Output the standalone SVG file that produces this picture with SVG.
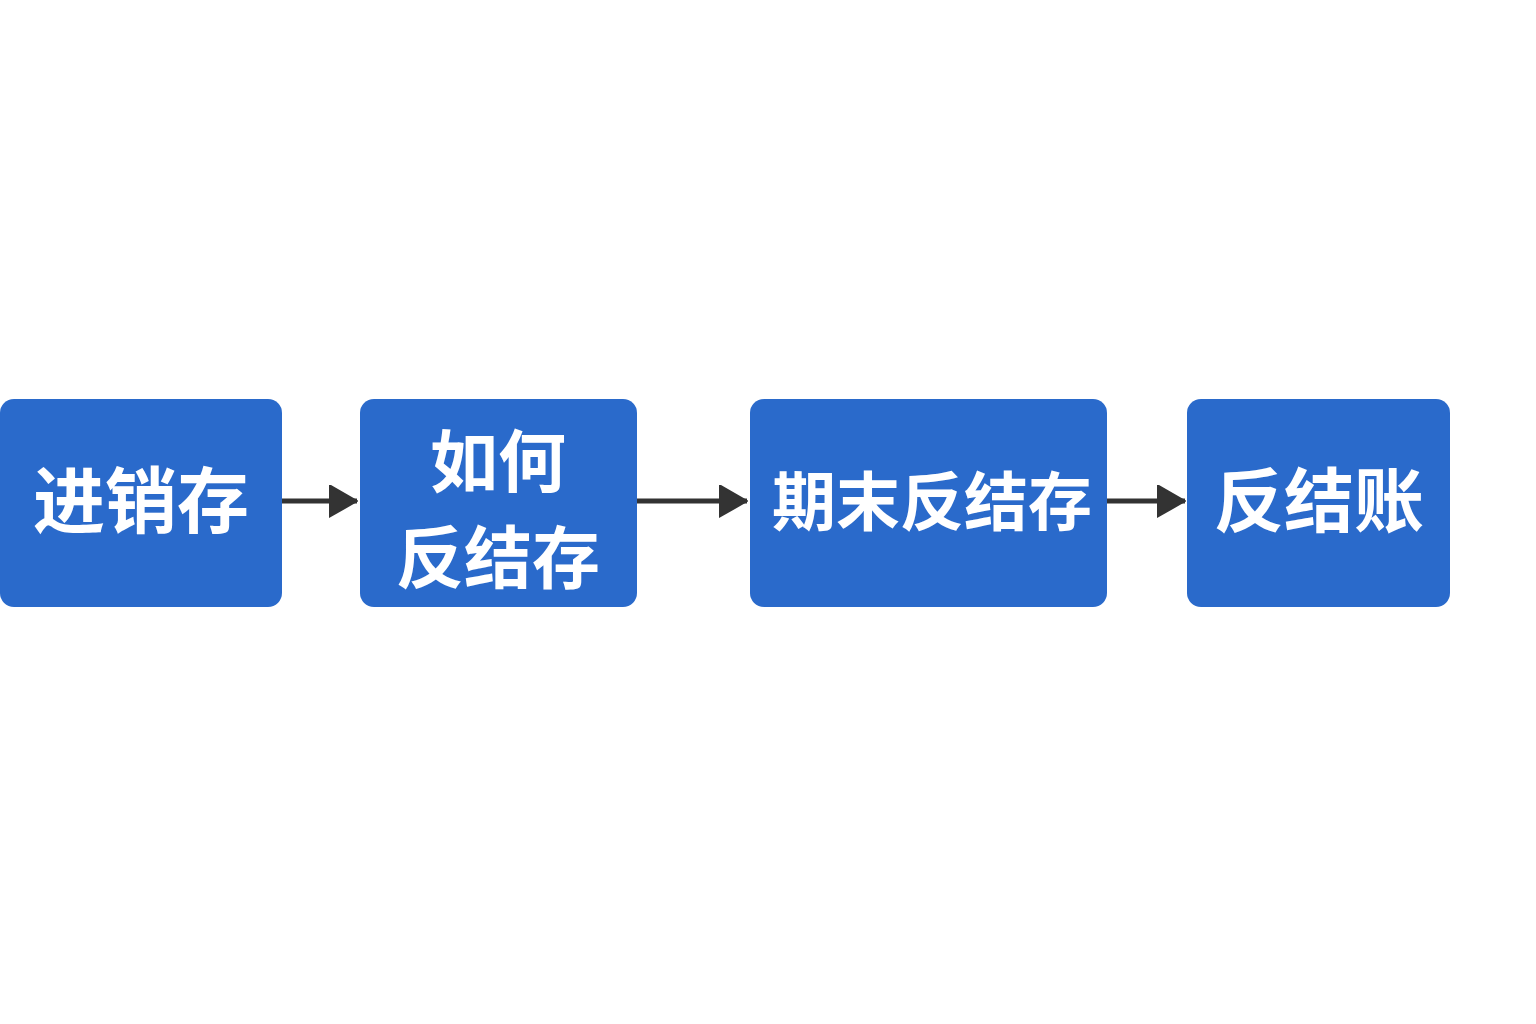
<svg xmlns="http://www.w3.org/2000/svg" width="1536" height="1024" viewBox="0 0 1536 1024">
<style>
.box{fill:#2a6acb}
.t{fill:#fff;font-family:"Noto Sans CJK SC","Noto Sans",sans-serif;font-weight:700;text-anchor:middle}
.c{stroke:#333;stroke-width:5;fill:none}
</style>
<defs>
<marker id="ah" markerUnits="userSpaceOnUse" markerWidth="30" markerHeight="34" refX="28" refY="16" orient="auto">
<path d="M0,0 L28,16 L0,32 Z" fill="#333" stroke="#333" stroke-width="2" stroke-linejoin="round"/>
</marker>
</defs>
<rect width="1536" height="1024" fill="#fff"/>
<g id="connectors">
<line class="c" x1="282" y1="501" x2="357" y2="501" marker-end="url(#ah)"/>
<line class="c" x1="637" y1="501" x2="747" y2="501" marker-end="url(#ah)"/>
<line class="c" x1="1107" y1="501" x2="1185" y2="501" marker-end="url(#ah)"/>
</g>
<g id="n1">
<rect class="box" x="0" y="399" width="282" height="208" rx="14"/>
<text class="t" x="141" y="527" font-size="72">进销存</text>
</g>
<g id="n2">
<rect class="box" x="360" y="399" width="277" height="208" rx="14"/>
<text class="t" x="498" y="487" font-size="68">如何</text>
<text class="t" x="498" y="583" font-size="68">反结存</text>
</g>
<g id="n3">
<rect class="box" x="750" y="399" width="357" height="208" rx="14"/>
<text class="t" x="932" y="525" font-size="64">期末反结存</text>
</g>
<g id="n4">
<rect class="box" x="1187" y="399" width="263" height="208" rx="14"/>
<text class="t" x="1319" y="527" font-size="70">反结账</text>
</g>
</svg>
